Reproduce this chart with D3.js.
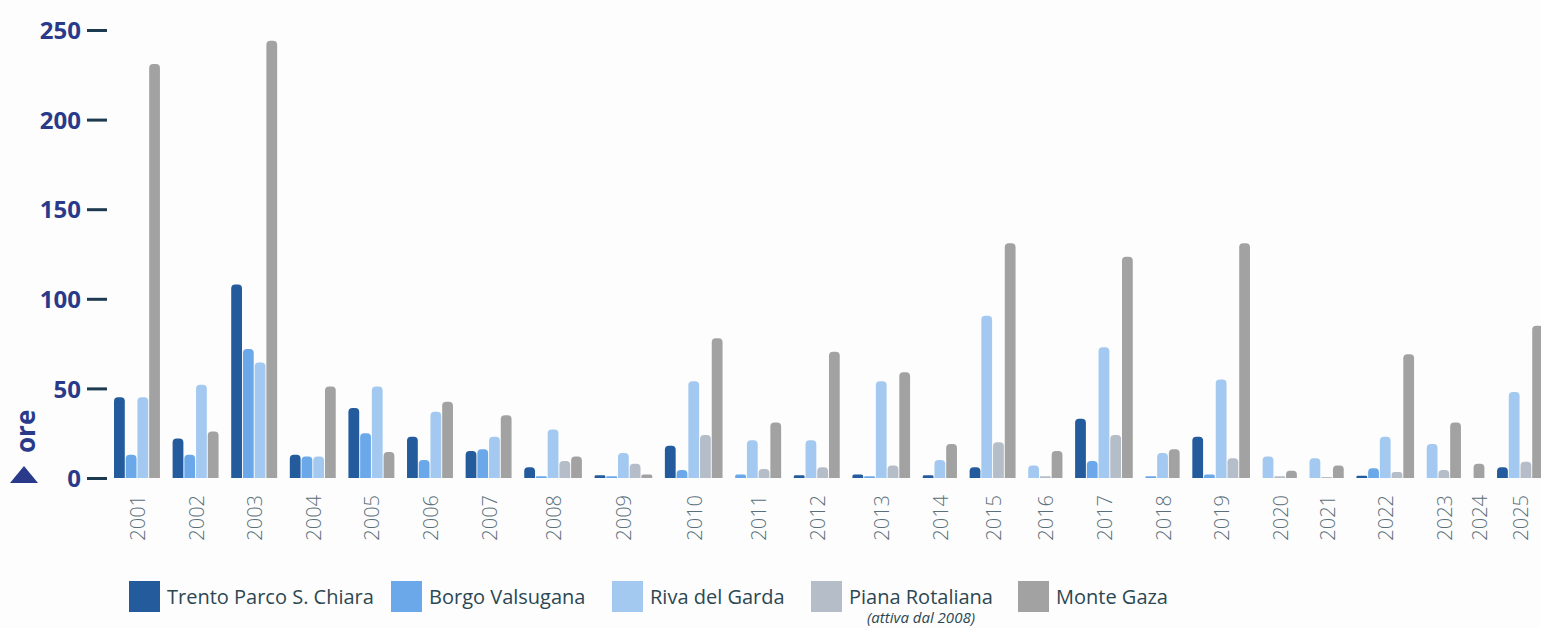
<!DOCTYPE html>
<html>
<head>
<meta charset="utf-8">
<script src="https://cdn.jsdelivr.net/npm/d3@7"></script>
<style>
  body { margin: 0; background: #fdfdfd; }
  svg { display: block; }
</style>
</head>
<body>
<div id="chart"></div>
<script>
// values, hours ("ore") per year
const years = ["2001","2002","2003","2004","2005","2006","2007","2008","2009","2010","2011","2012","2013",
               "2014","2015","2016","2017","2018","2019","2020","2021","2022","2023","2024","2025"];
const trento = [45, 22, 108, 13, 39, 23, 15, 6, 1.5, 18, null, 1.5, 2, 1.5, 6, null, 33, null, 23, null, null, 1.3, null, null, 6];
const borgo  = [13, 13, 72, 12, 25, 10, 16, 1, 1, 4.5, 2, null, 1, null, null, null, 9.5, 1, 2, null, null, 5.4, null, null, null];
const riva   = [45, 52, 64.5, 12, 51, 37, 23, 27, 14, 54, 21, 21, 54, 10, 90.5, 7, 73, 14, 55, 12, 11, 23, 19, null, 48];
const piana  = [null, null, null, null, null, null, null, 9.5, 8, 24, 5, 6, 7, null, 20, 1, 24, null, 11, 1, 0.6, 3.4, 4.5, null, 9];
const monte  = [231, 26, 244, 51, 14.5, 42.5, 35, 12, 2, 78, 31, 70.5, 59, 19, 131, 15, 123.5, 16, 131, 4, 7, 69, 31, 8, 85];

const seriesNames = ["Trento Parco S. Chiara", "Borgo Valsugana", "Riva del Garda", "Piana Rotaliana", "Monte Gaza"];
const seriesValues = [trento, borgo, riva, piana, monte];
const seriesColors = ["#235b9d", "#6aa8ea", "#a4c9f0", "#b5bdc8", "#a2a2a2"];
const yTicks = [0, 50, 100, 150, 200, 250];

const width = 1541, height = 628;

const svg = d3.select("#chart").append("svg")
    .attr("width", width)
    .attr("height", height);

// one slot per drawn bar, plus an empty slot between years
const bars = [];
const slots = [];
years.forEach((yr, i) => {
    seriesValues.forEach((vals, s) => {
        if (vals[i] != null) {
            const key = yr + "-" + s;
            bars.push({year: yr, s: s, value: vals[i], key: key});
            slots.push(key);
        }
    });
    if (i < years.length - 1) slots.push("gap-" + yr);
});

const x = d3.scaleBand()
    .domain(slots)
    .range([114, 1543])
    .paddingInner(0.08)
    .paddingOuter(0);

const y = d3.scaleLinear()
    .domain([0, 250])
    .range([478, 30]);

const bw = x.bandwidth();

function barPath(d) {
    const x0 = x(d.key), y0 = y(0), y1 = y(d.value);
    const h = y0 - y1;
    const r = Math.min(4, h / 2, bw / 2);
    return "M" + x0 + "," + y0 +
        "V" + (y1 + r) +
        "A" + r + "," + r + " 0 0 1 " + (x0 + r) + "," + y1 +
        "H" + (x0 + bw - r) +
        "A" + r + "," + r + " 0 0 1 " + (x0 + bw) + "," + (y1 + r) +
        "V" + y0 + "Z";
}

svg.append("g")
    .selectAll("path")
    .data(bars)
    .enter()
    .append("path")
    .attr("d", barPath)
    .attr("fill", d => seriesColors[d.s]);

// y axis
const yAxis = svg.append("g")
    .attr("transform", "translate(107,0)")
    .call(d3.axisLeft(y).tickValues(yTicks).tickSize(20).tickPadding(6));
yAxis.select(".domain").remove();
yAxis.selectAll(".tick line")
    .attr("stroke", "#1d3a50")
    .attr("stroke-width", 3);
yAxis.selectAll(".tick text")
    .attr("fill", "#2a3a8a")
    .attr("font-family", "'Open Sans', sans-serif")
    .attr("font-weight", 700)
    .attr("font-size", 24)
    .attr("dy", "0.36em");

// axis title
svg.append("text")
    .attr("transform", "translate(35,453) rotate(-90)")
    .attr("fill", "#2a3a8a")
    .attr("font-family", "'Open Sans', sans-serif")
    .attr("font-weight", 700)
    .attr("font-size", 26)
    .text("ore");
svg.append("path")
    .attr("d", "M10,483L38,483L24,466Z")
    .attr("fill", "#2a3a8a");

// year labels, centred under each group
const groups = d3.groups(bars, d => d.year);
svg.append("g")
    .selectAll("text")
    .data(groups)
    .enter()
    .append("text")
    .attr("transform", d => {
        const first = d[1][0], last = d[1][d[1].length - 1];
        const cx = (x(first.key) + x(last.key) + bw) / 2;
        return "translate(" + (cx + 8) + ",495) rotate(-90)";
    })
    .attr("text-anchor", "end")
    .attr("fill", "#5a6f7a")
    .attr("font-family", "'Open Sans', sans-serif")
    .attr("font-weight", 300)
    .attr("font-size", 20)
    .text(d => d[0]);

// legend
const legendX = [129, 391, 612, 811, 1018];
const legend = svg.append("g");
seriesNames.forEach((name, s) => {
    const lx = legendX[s];
    legend.append("rect")
        .attr("x", lx).attr("y", 581)
        .attr("width", 31).attr("height", 31)
        .attr("fill", seriesColors[s]);
    const t = legend.append("text")
        .attr("x", lx + 38).attr("y", 604)
        .attr("fill", "#2c4752")
        .attr("font-family", "'Open Sans', sans-serif")
        .attr("font-size", 20)
        .text(name);
    if (s === 3) {
        const tw = t.node().getComputedTextLength();
        legend.append("text")
            .attr("x", lx + 38 + tw / 2).attr("y", 623)
            .attr("text-anchor", "middle")
            .attr("fill", "#2c4752")
            .attr("font-family", "'Open Sans', sans-serif")
            .attr("font-style", "italic")
            .attr("font-size", 15)
            .text("(attiva dal 2008)");
    }
});
</script>
</body>
</html>
